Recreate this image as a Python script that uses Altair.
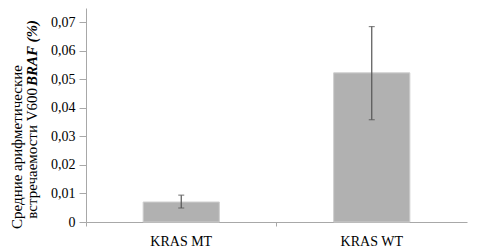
import altair as alt
import pandas as pd

categories = ["KRAS MT", "KRAS WT"]
means = [0.0070, 0.0522]
lower = [0.0049, 0.0358]
upper = [0.0094, 0.0684]
tick_values = [0, 0.01, 0.02, 0.03, 0.04, 0.05, 0.06, 0.07]

df = pd.DataFrame({"cat": categories, "mean": means, "lo": lower, "hi": upper})

FONT = "Liberation Serif"
ydom = [0, 0.0749]

x_scale = alt.Scale(paddingInner=0, paddingOuter=0)
x_axis = alt.Axis(labelAngle=0, labelFont=FONT, labelFontSize=14,
                  labelColor="#000", labelPadding=8, domainColor="#a8a8a8",
                  tickColor="#a8a8a8", tickSize=4, bandPosition=0,
                  grid=False, title=None)
y_axis = alt.Axis(values=tick_values, labelFont=FONT, labelFontSize=14,
                  labelColor="#000", labelPadding=4, labelOverlap=False,
                  labelExpr="datum.value == 0 ? '0' : replace(format(datum.value, '.2f'), '.', ',')",
                  domainColor="#a8a8a8", tickColor="#a8a8a8", tickSize=7,
                  grid=False, title=None)
y_scale = alt.Scale(domain=ydom, nice=False, zero=True)

x_enc = alt.X("cat:N", sort=categories, title=None, scale=x_scale, axis=x_axis)


def yq(field):
    return alt.Y(field, type="quantitative", scale=y_scale, axis=y_axis, title=None)


bars = alt.Chart(df).mark_bar(color="#b1b1b1", stroke="#cfcfcf", strokeWidth=1,
                              width=alt.RelativeBandSize(0.4)).encode(
    x=x_enc, y=yq("mean"))

rules = alt.Chart(df).mark_rule(color="#555555", strokeWidth=1.2).encode(
    x=x_enc, y=yq("lo"), y2="hi:Q")
caps_hi = alt.Chart(df).mark_tick(color="#555555", thickness=1.2, size=6,
                                  orient="horizontal").encode(x=x_enc, y=yq("hi"))
caps_lo = alt.Chart(df).mark_tick(color="#555555", thickness=1.2, size=6,
                                  orient="horizontal").encode(x=x_enc, y=yq("lo"))

title_df = pd.DataFrame({"t": [0]})
t1 = alt.Chart(title_df).mark_text(angle=270, font=FONT, fontSize=15, align="center",
                                   baseline="middle", color="#000",
                                   text="Средние арифметические").encode(
    x=alt.value(-69), y=alt.value(139))
t2a = alt.Chart(title_df).mark_text(angle=270, font=FONT, fontSize=15, align="right",
                                    baseline="middle", color="#000",
                                    text="встречаемости  V600 ").encode(
    x=alt.value(-54), y=alt.value(80))
t2b = alt.Chart(title_df).mark_text(angle=270, font=FONT, fontSize=15, align="left",
                                    baseline="middle", color="#000", fontWeight="bold",
                                    fontStyle="italic", text="BRAF (%)").encode(
    x=alt.value(-54), y=alt.value(78))

chart = alt.layer(bars, rules, caps_hi, caps_lo, t1, t2a, t2b).properties(
    width=381, height=214,
    autosize=alt.AutoSizeParams(type="none"),
    padding={"left": 78, "top": 0, "right": 6, "bottom": 26},
).configure_view(stroke=None).configure_axis(domainWidth=1, tickWidth=1)

chart.save("out.html", embed_options={"renderer": "svg", "actions": False})
